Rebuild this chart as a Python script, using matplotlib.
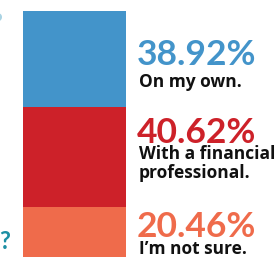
import matplotlib.pyplot as plt

# survey answers, top to bottom
labels = ["On my own.", "With a financial\nprofessional.", "I\u2019m not sure."]
shares = [38.92, 40.62, 20.46]
colors = ["#4394ca", "#cd2129", "#ef6b4b"]

W, H = 278, 257
fig = plt.figure(figsize=(W / 100, H / 100), dpi=100)
fig.patch.set_facecolor("white")

# bar axes: one stacked column, top segment first
ax = fig.add_axes([23 / W, 0, 103 / W, 246 / H])
bottom = 0
for val, col in zip(shares, colors):
    ax.bar(0, val, bottom=bottom, width=1, color=col, linewidth=0)
    bottom += val
ax.set_xlim(-0.5, 0.5)
ax.set_ylim(sum(shares), 0)
ax.axis("off")

# baselines (pixels from top) of the percent and of the last caption line
pct_base = [65, 143, 237]
cap_base = [87, 178, 254]
for lab, val, col, yp, yc in zip(labels, shares, colors, pct_base, cap_base):
    fig.text(137 / W, 1 - yp / H, f"{val:.2f}%", color=col, fontsize=25.5,
             fontweight="bold", family="Lato", va="baseline", ha="left")
    fig.text(139 / W, 1 - yc / H, lab, color="#111111", fontsize=12.5,
             fontweight="bold", family="Open Sans", va="baseline", ha="left",
             linespacing=1.05)

# cut-off question marks at the left edge
fig.text(2 / W, 1 - 12 / H, "?", color="#a9d3e3", fontsize=17,
         fontweight="bold", family="Lato", va="top", ha="right")
fig.text(10 / W, 1 - 230 / H, "?", color="#1d8fa4", fontsize=17,
         fontweight="bold", family="Lato", va="top", ha="right")

fig.savefig("out.png", dpi=100)
